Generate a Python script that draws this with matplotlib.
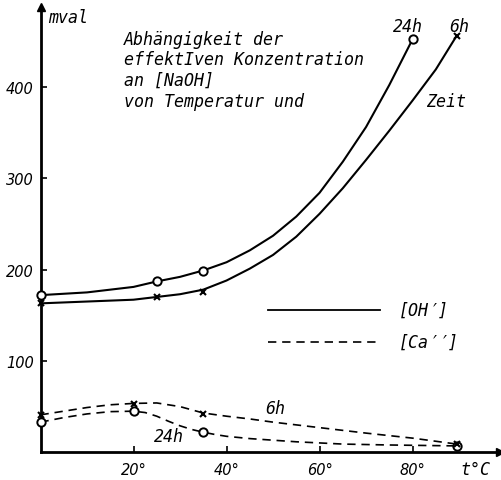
import matplotlib.pyplot as plt

# measured points (markers)
oh24_t = [0, 25, 35, 80]
oh24_v = [172, 187, 198, 452]
oh6_t = [0, 25, 35, 89.5]
oh6_v = [163, 170, 175, 456]
ca24_t = [0, 20, 35, 89.5]
ca24_v = [33, 45, 22, 7]
ca6_t = [0, 20, 35, 89.5]
ca6_v = [41, 53, 42, 9]

# curve traces
oh24_ct = [0, 10, 20, 25, 30, 35, 40, 45, 50, 55, 60, 65, 70, 75, 80]
oh24_cv = [172, 175, 181, 187, 192, 199, 208, 221, 237, 258, 284, 318, 356, 402, 452]
oh6_ct = [0, 10, 20, 25, 30, 35, 40, 45, 50, 55, 60, 65, 70, 75, 80, 85, 89.5]
oh6_cv = [163, 165, 167, 170, 173, 178, 188, 201, 216, 236, 261, 289, 320, 352, 385, 419, 456]
ca24_ct = [0, 5, 10, 15, 20, 22.5, 25, 27.5, 30, 32.5, 35, 37.5, 40, 45, 55, 65, 75, 89.5]
ca24_cv = [33, 38, 42, 44.5, 45, 43.5, 39.5, 34, 29, 25, 22, 19.5, 17.5, 15, 11.5, 9, 8, 7]
ca6_ct = [0, 5, 10, 15, 20, 25, 30, 35, 40, 45, 50, 60, 70, 80, 89.5]
ca6_cv = [41, 45, 49, 52, 53.5, 54, 50, 43, 39.5, 36.5, 33, 27, 21, 15.5, 9]

xticks = [20, 40, 60, 80]
xlabels = ["20°", "40°", "60°", "80°"]
yticks = [100, 200, 300, 400]

title_lines = ["Abhängigkeit der", "effektIven Konzentration", "an [NaOH]", "von Temperatur und"]
title_y = [447, 425, 402, 379]

fig = plt.figure(figsize=(5.01, 4.81), dpi=100)
ax = fig.add_axes([40.5 / 501, 27.7 / 481, 459.5 / 501, 445 / 481])
ax.set_xlim(0, 98.8)
ax.set_ylim(0, 487)

tick_font = dict(family="DejaVu Sans", style="italic", fontsize=10.5)
font = dict(family="DejaVu Sans Mono", style="italic", fontsize=12)
dash = (0, (5, 3.5))

ax.plot(oh24_ct, oh24_cv, color="black", lw=1.5)
ax.plot(oh6_ct, oh6_cv, color="black", lw=1.5)
ax.plot(ca24_ct, ca24_cv, color="black", lw=1.2, ls=dash)
ax.plot(ca6_ct, ca6_cv, color="black", lw=1.2, ls=dash)

for t, v in [(oh24_t, oh24_v), (ca24_t, ca24_v)]:
    ax.plot(t, v, "o", ms=6, mfc="white", mec="black", mew=1.4, clip_on=False, zorder=5)
for t, v in [(oh6_t, oh6_v), (ca6_t, ca6_v)]:
    ax.plot(t, v, "x", ms=4, color="black", mew=1.5, clip_on=False, zorder=5)

for s in ["top", "right"]:
    ax.spines[s].set_visible(False)
for s in ["left", "bottom"]:
    ax.spines[s].set_linewidth(2)
ax.plot(1, 0, ">k", ms=6, transform=ax.get_yaxis_transform(), clip_on=False)
ax.plot(0, 1, "^k", ms=6, transform=ax.get_xaxis_transform(), clip_on=False)

ax.set_xticks(xticks)
ax.set_xticklabels(xlabels, **tick_font)
ax.set_yticks(yticks)
ax.set_yticklabels([str(v) for v in yticks], **tick_font)
ax.tick_params(direction="in", length=4, width=1.2)
ax.tick_params(axis="y", pad=5)
ax.tick_params(axis="x", pad=7)

ax.text(1.6, 476, "mval", ha="left", va="center", **font)
ax.text(90.2, -18, "t°C", ha="left", va="center", **font)

for line, y in zip(title_lines, title_y):
    ax.text(18, y, line, ha="left", va="baseline", **font)
ax.text(83, 379, "Zeit", ha="left", va="baseline", **font)
ax.text(79, 461, "24h", ha="center", va="baseline", **font)
ax.text(90, 461, "6h", ha="center", va="baseline", **font)
ax.text(50.5, 49, "6h", ha="center", va="center", **font)
ax.text(27.6, 18, "24h", ha="center", va="center", **font)

ax.plot([49, 73], [156, 156], color="black", lw=1.3)
ax.plot([49, 73], [121, 121], color="black", lw=1.2, ls=dash)
ax.text(77, 156, "[OH′]", ha="left", va="center", **font)
ax.text(77, 121, "[Ca′′]", ha="left", va="center", **font)

fig.savefig("out.png", dpi=100)
